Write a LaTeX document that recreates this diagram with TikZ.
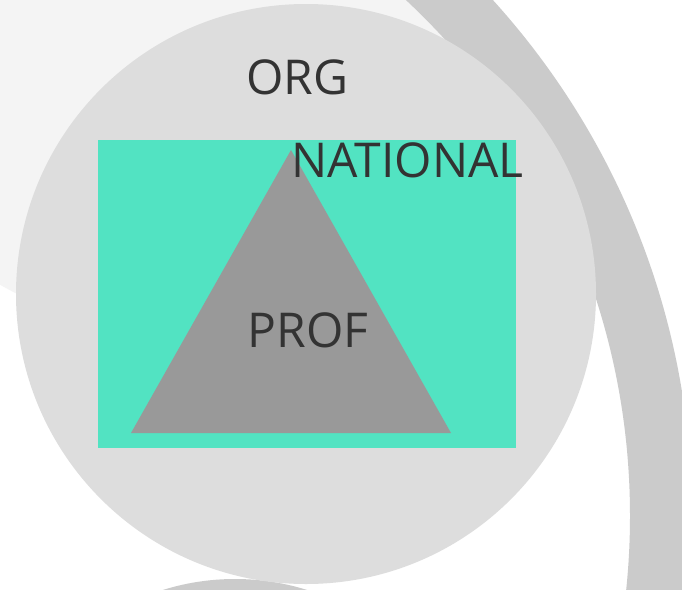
\documentclass[tikz,border=0pt]{standalone}
\usepackage{fontspec}
\setmainfont{Open Sans}
\definecolor{blobc}{HTML}{F4F4F4}
\definecolor{ringc}{HTML}{CBCBCB}
\definecolor{circc}{HTML}{DDDDDD}
\definecolor{tealc}{HTML}{52E3C2}
\definecolor{tric}{HTML}{999999}
\definecolor{txtc}{HTML}{333333}
\tikzset{lbl/.style={anchor=base, inner sep=0pt, text=txtc, font=\fontsize{48}{58}\selectfont}}
\begin{document}
\begin{tikzpicture}[x=1pt,y=-1pt]
\useasboundingbox (0,0) rectangle (682,589);
\clip (0,0) rectangle (682,589);
\fill[white] (0,0) rectangle (682,589);
% light background blob
\begin{scope}
  \clip (-76,516) circle[radius=706pt];
  \fill[blobc] (300,-250) circle[radius=613pt];
\end{scope}
% large ring
\fill[ringc, even odd rule] (-76,516) circle[radius=768pt] (-76,516) circle[radius=706pt];
% bottom cap
\fill[ringc] (235,820) circle[radius=241pt];
% main circle
\fill[circc] (306,294) circle[radius=290pt];
% teal rectangle
\fill[tealc] (98,140) rectangle (516,448);
% triangle
\fill[tric] (291,150) -- (451,433) -- (131,433) -- cycle;
% labels
\node[lbl] (org) at (297.5,94) {ORG};
\node[lbl] (national) at (407.5,177) {NATIONAL};
\node[lbl] (prof) at (308,347) {PROF};
\end{tikzpicture}
\end{document}
